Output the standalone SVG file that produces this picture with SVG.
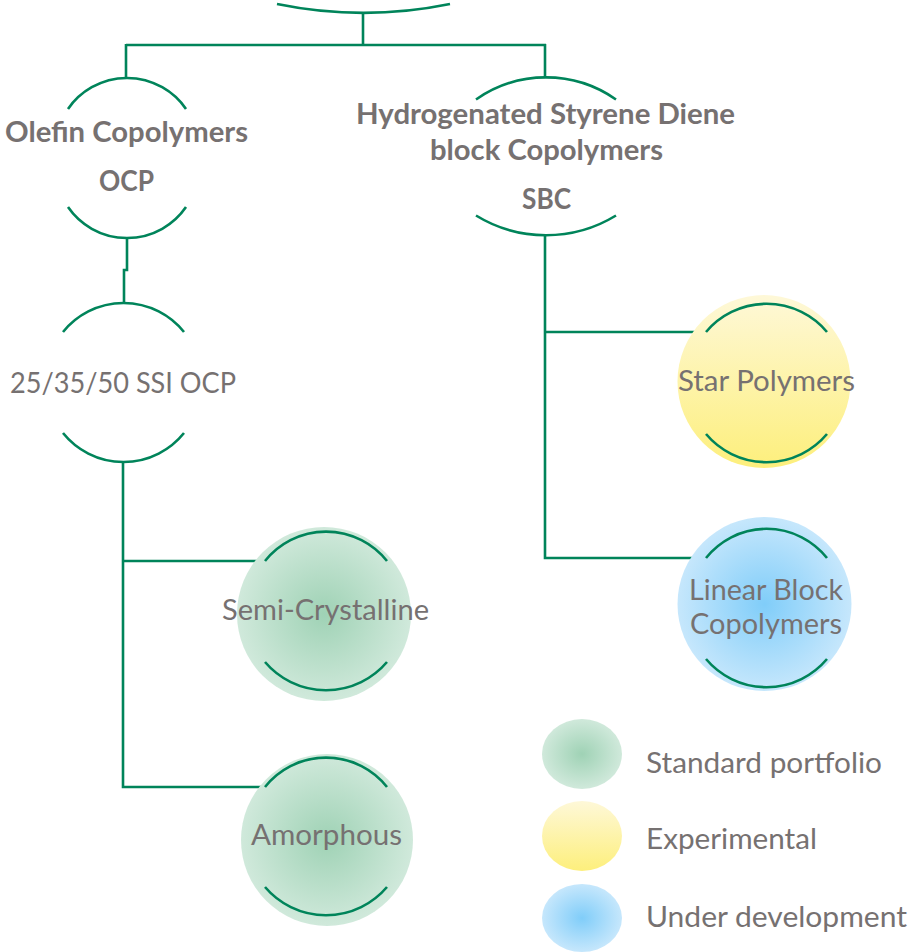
<svg xmlns="http://www.w3.org/2000/svg" width="914" height="952" viewBox="0 0 914 952">
<style>
.arc{fill:none;stroke:#00845A;stroke-width:2.6;stroke-linecap:butt}
.con{fill:none;stroke:#00845A;stroke-width:2.6}
.t{font-family:Lato,"Open Sans","Liberation Sans",sans-serif;font-size:29px;fill:#767171}
.b{font-family:Lato,"Open Sans","Liberation Sans",sans-serif;font-size:28px;font-weight:bold;fill:#767171}
</style>
<defs>
<radialGradient id="gG" cx="0.5" cy="0.5" r="0.5">
<stop offset="0" stop-color="#9fd2b5"/>
<stop offset="1" stop-color="#d0e9db"/>
</radialGradient>
<linearGradient id="gY" x1="0" y1="0" x2="0" y2="1">
<stop offset="0" stop-color="#fef8d8"/>
<stop offset="1" stop-color="#fdef7c"/>
</linearGradient>
<radialGradient id="gB" cx="0.5" cy="0.5" r="0.5">
<stop offset="0" stop-color="#80cdf9"/>
<stop offset="1" stop-color="#c6e7fc"/>
</radialGradient>
</defs>
<g id="connectors">
<path class="con" d="M363,13 V45"/>
<path class="con" d="M126,45 H546"/>
<path class="con" d="M126,44 V79"/>
<path class="con" d="M545,44 V78"/>
<path class="con" d="M127,238 V270 H124 V303"/>
<path class="con" d="M123,462 V787 H265"/>
<path class="con" d="M123,561 H265"/>
<path class="con" d="M545,235 V558 H706"/>
<path class="con" d="M545,332 H706"/>
</g>
<g id="root">
<path class="arc" d="M277,4 A430,430 0 0 0 450,4"/>
</g>
<g id="ocp">
<path class="arc" d="M68,109 A71.6,71.6 0 0 1 186,109"/>
<path class="arc" d="M68,207 A71.6,71.6 0 0 0 186,207"/>
<text class="b" x="5" y="142" textLength="243" lengthAdjust="spacingAndGlyphs">Olefin Copolymers</text>
<text class="b" x="99" y="191" textLength="55" lengthAdjust="spacingAndGlyphs">OCP</text>
</g>
<g id="sbc">
<path class="arc" d="M476,99.5 A122,122 0 0 1 616,99.5"/>
<path class="arc" d="M476,215.5 A134,134 0 0 0 616,215.5"/>
<text class="b" x="356" y="123.5" textLength="379" lengthAdjust="spacingAndGlyphs">Hydrogenated Styrene Diene</text>
<text class="b" x="430" y="160" textLength="233" lengthAdjust="spacingAndGlyphs">block Copolymers</text>
<text class="b" x="522" y="208.5" textLength="49" lengthAdjust="spacingAndGlyphs">SBC</text>
</g>
<g id="ssi">
<path class="arc" d="M63,332 A77.6,77.6 0 0 1 184,332"/>
<path class="arc" d="M63,433 A77.6,77.6 0 0 0 184,433"/>
<text class="t" x="10" y="393" textLength="226" lengthAdjust="spacingAndGlyphs">25/35/50 SSI OCP</text>
</g>
<g id="semi">
<circle cx="324" cy="614" r="87" fill="url(#gG)"/>
<path class="arc" d="M265,561 A78,78 0 0 1 387,561"/>
<path class="arc" d="M265,662 A80,80 0 0 0 387,662"/>
<text class="t" x="222" y="620" textLength="207" lengthAdjust="spacingAndGlyphs">Semi-Crystalline</text>
</g>
<g id="amorphous">
<circle cx="327" cy="840" r="86" fill="url(#gG)"/>
<path class="arc" d="M265,787 A78,78 0 0 1 387,787"/>
<path class="arc" d="M265,887 A80,80 0 0 0 387,887"/>
<text class="t" x="251" y="845" textLength="151" lengthAdjust="spacingAndGlyphs">Amorphous</text>
</g>
<g id="star">
<circle cx="764" cy="381.5" r="86.5" fill="url(#gY)"/>
<path class="arc" d="M706,332 A79,79 0 0 1 827,332"/>
<path class="arc" d="M706,434 A79,79 0 0 0 827,434"/>
<text class="t" x="678" y="391" textLength="177" lengthAdjust="spacingAndGlyphs">Star Polymers</text>
</g>
<g id="linear">
<circle cx="764.5" cy="604" r="87" fill="url(#gB)"/>
<path class="arc" d="M706,558 A77.3,77.3 0 0 1 827,558"/>
<path class="arc" d="M706,659 A79,79 0 0 0 827,659"/>
<text class="t" x="689" y="599.5" textLength="154" lengthAdjust="spacingAndGlyphs">Linear Block</text>
<text class="t" x="690" y="634" textLength="152" lengthAdjust="spacingAndGlyphs">Copolymers</text>
</g>
<g id="legend">
<ellipse cx="582" cy="754" rx="40" ry="35" fill="url(#gG)"/>
<ellipse cx="582" cy="836" rx="40" ry="35" fill="url(#gY)"/>
<ellipse cx="582" cy="918" rx="40" ry="34" fill="url(#gB)"/>
<text class="t" x="646" y="773" textLength="236" lengthAdjust="spacingAndGlyphs">Standard portfolio</text>
<text class="t" x="646" y="848.5" textLength="171" lengthAdjust="spacingAndGlyphs">Experimental</text>
<text class="t" x="646" y="927" textLength="261" lengthAdjust="spacingAndGlyphs">Under development</text>
</g>
</svg>
